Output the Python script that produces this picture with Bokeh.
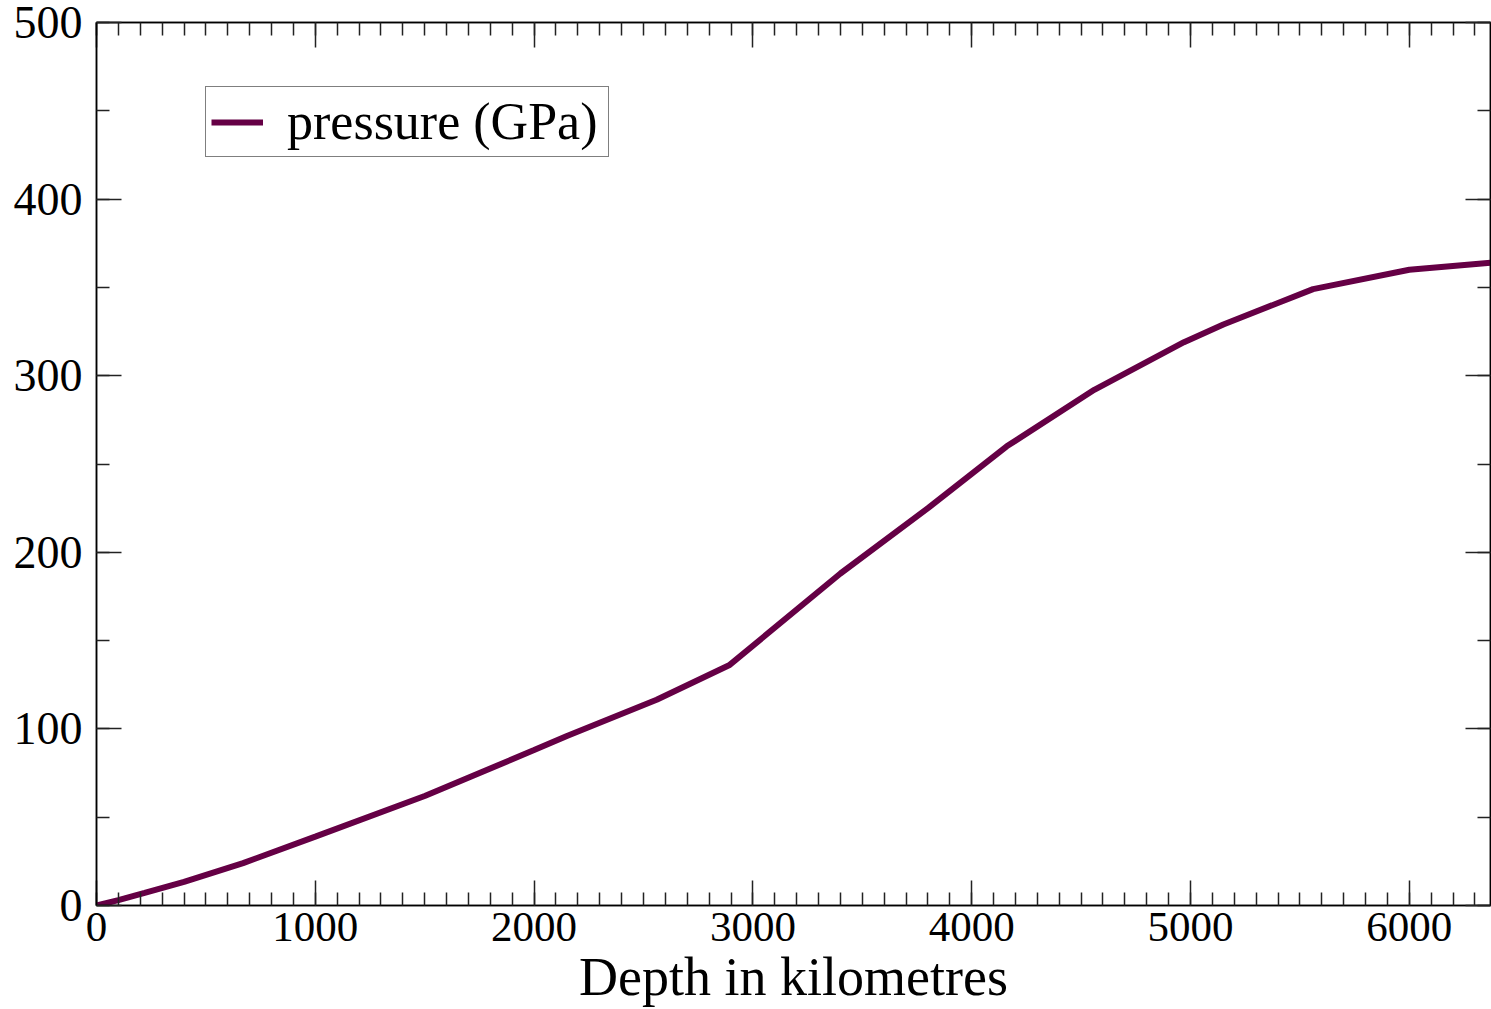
from bokeh.plotting import figure
from bokeh.models import LinearAxis, SingleIntervalTicker, Range1d, Legend, LegendItem
from bokeh.embed import file_html
from bokeh.resources import INLINE

depth_km = [0, 100, 220, 400, 670, 1000, 1500, 2000, 2150, 2560, 2891, 3400, 3800, 4160, 4560, 4970, 5150, 5560, 6000, 6371]
pressure_gpa = [0, 3.0, 7.1, 13.4, 24.0, 39.0, 62.0, 88.0, 96.0, 116.5, 136.0, 188.0, 225.0, 260.0, 292.0, 319.0, 329.0, 349.0, 360.0, 364.0]

x_major = 1000
y_major = 100
series_label = "pressure (GPa)"
x_label = "Depth in kilometres"

FONT = "Liberation Serif"

p = figure(width=1491, height=1009, output_backend="svg", toolbar_location=None,
           x_range=Range1d(0, 6371), y_range=Range1d(0, 500),
           min_border_left=96, min_border_top=22, min_border_bottom=104, min_border_right=1,
           x_axis_location=None, y_axis_location=None)
p.xgrid.visible = False
p.ygrid.visible = False
p.outline_line_color = "black"
p.outline_line_width = 1.5
p.background_fill_color = "white"
p.border_fill_color = "white"

def style(ax, labels, size):
    ax.axis_line_color = "black"
    ax.axis_line_width = 1.5
    ax.major_tick_in = 25
    ax.major_tick_out = 0
    ax.minor_tick_in = 13
    ax.minor_tick_out = 0
    ax.major_tick_line_color = "#222222"
    ax.minor_tick_line_color = "#222222"
    ax.major_tick_line_width = 1.5
    ax.minor_tick_line_width = 1.5
    ax.major_label_text_font = FONT
    ax.major_label_text_font_size = size
    ax.major_label_text_color = "black"
    if not labels:
        ax.major_label_text_color = None
        ax.major_label_text_font_size = "0px"

xb = LinearAxis(ticker=SingleIntervalTicker(interval=x_major, num_minor_ticks=10))
style(xb, True, "43px")
xb.major_label_standoff = 7
xb.axis_label = x_label
xb.axis_label_text_font = FONT
xb.axis_label_text_font_size = "54px"
xb.axis_label_text_font_style = "normal"
xb.axis_label_text_color = "black"
xb.axis_label_standoff = 3
p.add_layout(xb, "below")

xt = LinearAxis(ticker=SingleIntervalTicker(interval=x_major, num_minor_ticks=10))
style(xt, False, "0px")
p.add_layout(xt, "above")

yl = LinearAxis(ticker=SingleIntervalTicker(interval=y_major, num_minor_ticks=2))
style(yl, True, "46px")
yl.major_label_standoff = 14
p.add_layout(yl, "left")

yr = LinearAxis(ticker=SingleIntervalTicker(interval=y_major, num_minor_ticks=2))
style(yr, False, "0px")
p.add_layout(yr, "right")

r = p.line(depth_km, pressure_gpa, line_color="#650045", line_width=6)

legend = Legend(items=[LegendItem(label=series_label, renderers=[r])],
                location=(109, 748))
legend.label_text_font = FONT
legend.label_text_font_size = "52px"
legend.label_text_color = "black"
legend.glyph_width = 52
legend.glyph_height = 50
legend.label_standoff = 24
legend.label_width = 316
legend.padding = 5
legend.margin = 0
legend.spacing = 0
legend.border_line_color = "black"
legend.border_line_width = 1.5
legend.background_fill_alpha = 1
p.add_layout(legend, "center")

open("out.html", "w").write(file_html(p, INLINE))
